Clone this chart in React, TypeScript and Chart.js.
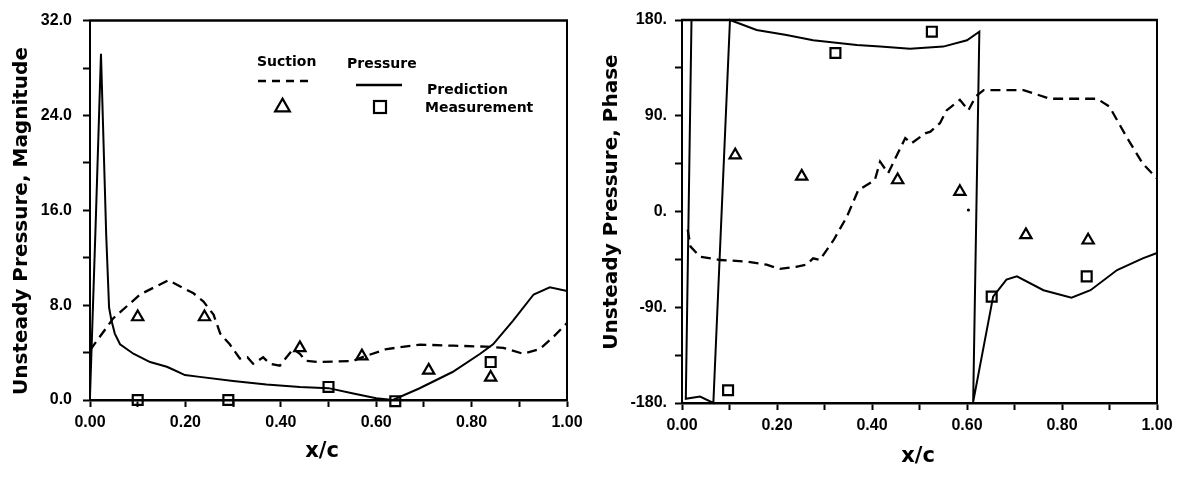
import React, { useEffect, useRef } from 'react';
import { Chart, registerables } from 'chart.js';

Chart.register(...registerables);

// ---------- tick labels ----------
const xTickValues = [0, 0.2, 0.4, 0.6, 0.8, 1.0];
const xTickLabels = ['0.00', '0.20', '0.40', '0.60', '0.80', '1.00'];
const magTickValues = [0, 8, 16, 24, 32];
const magTickLabels = ['0.0', '8.0', '16.0', '24.0', '32.0'];
const phaseTickValues = [-180, -90, 0, 90, 180];
const phaseTickLabels = ['-180.', '-90.', '0.', '90.', '180.'];

// ---------- magnitude panel ----------
const magPressPredX = [0, 0.012, 0.023, 0.034, 0.040, 0.045, 0.052, 0.063, 0.091, 0.126, 0.161, 0.175, 0.199, 0.23, 0.30, 0.37, 0.44, 0.50, 0.552, 0.60, 0.635, 0.69, 0.76, 0.818, 0.845, 0.887, 0.93, 0.964, 1.0];
const magPressPredY = [0.3, 15.0, 29.2, 13.9, 7.8, 6.7, 5.6, 4.7, 3.9, 3.2, 2.8, 2.55, 2.1, 1.95, 1.6, 1.3, 1.1, 1.0, 0.55, 0.15, 0.0, 0.97, 2.36, 3.9, 4.7, 6.7, 8.9, 9.5, 9.2];
const magSuctPredX = [0, 0.049, 0.105, 0.164, 0.217, 0.238, 0.259, 0.273, 0.293, 0.314, 0.33, 0.342, 0.363, 0.377, 0.398, 0.412, 0.426, 0.44, 0.452, 0.482, 0.552, 0.57, 0.622, 0.692, 0.762, 0.83, 0.866, 0.908, 0.943, 0.971, 1.0];
const magSuctPredY = [4.2, 6.9, 8.9, 10.1, 9.0, 8.3, 7.2, 5.6, 4.7, 3.5, 3.6, 3.06, 3.6, 3.06, 2.9, 3.6, 4.3, 3.9, 3.3, 3.2, 3.3, 3.6, 4.3, 4.67, 4.58, 4.5, 4.4, 3.9, 4.3, 5.3, 6.5];
const magSuctMeasX = [0.10, 0.24, 0.44, 0.57, 0.71, 0.84];
const magSuctMeasY = [7.0, 7.0, 4.4, 3.7, 2.5, 1.9];
const magPressMeasX = [0.10, 0.29, 0.50, 0.64, 0.84];
const magPressMeasY = [0.0, 0.0, 1.1, -0.1, 3.2];

// ---------- phase panel ----------
const phPressPredX = [0, 0.02, 0.008, 0.038, 0.066, 0.101, 0.157, 0.22, 0.276, 0.368, 0.417, 0.48, 0.55, 0.60, 0.626, 0.613, 0.655, 0.683, 0.705, 0.761, 0.82, 0.86, 0.916, 0.97, 1.0];
const phPressPredY = [180, 180, -176, -174, -180, 180, 170.6, 165.9, 161, 156.4, 155, 153, 155, 161, 169, -179, -80, -64, -61, -74, -81, -74, -55, -44, -39];
const phSuctPredX = [0.012, 0.018, 0.038, 0.08, 0.136, 0.178, 0.206, 0.24, 0.262, 0.276, 0.29, 0.319, 0.347, 0.371, 0.406, 0.417, 0.434, 0.47, 0.483, 0.512, 0.523, 0.543, 0.557, 0.585, 0.603, 0.618, 0.635, 0.719, 0.775, 0.874, 0.90, 0.936, 0.97, 1.0];
const phSuctPredY = [-17, -33, -42.5, -45.6, -47, -50, -54, -52, -50, -44, -45.6, -27, -5, 20, 29.6, 46.8, 36, 69, 64, 73.5, 75, 83, 95, 105, 95, 108, 114, 114, 106, 106, 98.5, 70, 45, 31];
const phSuctMeasX = [0.112, 0.252, 0.454, 0.585, 0.724, 0.855];
const phSuctMeasY = [53, 33, 29.6, 18.6, -22, -27];
const phPressMeasX = [0.097, 0.323, 0.526, 0.652, 0.852];
const phPressMeasY = [-168, 149, 169, -80, -61];
const phStrayX = [0.603];
const phStrayY = [1.4];

const pts = (xs: number[], ys: number[]) => xs.map((x, i) => ({ x, y: ys[i] }));

const tickCb = (values: number[], labels: string[]) => (v: any) => {
  const i = values.findIndex((t) => Math.abs(t - Number(v)) < 1e-6);
  return i >= 0 ? labels[i] : '';
};

const TICK_FONT = { family: '"Liberation Sans", Arial, sans-serif', size: 16, weight: 'bold' as const };

function drawTriangle(ctx: CanvasRenderingContext2D, cx: number, cy: number, r: number) {
  ctx.beginPath();
  for (let k = 0; k < 3; k++) {
    const a = -Math.PI / 2 + (k * 2 * Math.PI) / 3;
    const x = cx + Math.cos(a) * r;
    const y = cy + Math.sin(a) * r + r * 0.25;
    if (k === 0) ctx.moveTo(x, y);
    else ctx.lineTo(x, y);
  }
  ctx.closePath();
  ctx.stroke();
}

function decorPlugin(p: { yTitle: string; yTitleX: number; yTitleY: number; xTitleX: number; xTitleY: number; legend: boolean }) {
  return {
    id: 'decor',
    afterDraw(chart: any) {
      const { ctx, chartArea: a } = chart;
      ctx.save();
      ctx.strokeStyle = '#000';
      ctx.lineWidth = 2.5;
      ctx.beginPath();
      ctx.moveTo(a.left - 1, a.top);
      ctx.lineTo(a.right + 1, a.top);
      ctx.stroke();
      ctx.lineWidth = 2;
      ctx.beginPath();
      ctx.moveTo(a.right, a.top);
      ctx.lineTo(a.right, a.bottom);
      ctx.stroke();

      ctx.fillStyle = '#000';
      ctx.font = 'bold 20px "DejaVu Sans"';
      ctx.textAlign = 'center';
      ctx.textBaseline = 'middle';
      ctx.save();
      ctx.translate(p.yTitleX, p.yTitleY);
      ctx.rotate(-Math.PI / 2);
      ctx.fillText(p.yTitle, 0, 0);
      ctx.restore();
      ctx.font = 'bold 21px "DejaVu Sans"';
      ctx.fillText('x/c', p.xTitleX, p.xTitleY);

      if (p.legend) {
        ctx.font = 'bold 14px "DejaVu Sans"';
        ctx.textAlign = 'left';
        ctx.fillText('Suction', 257, 62);
        ctx.fillText('Pressure', 347, 64);
        ctx.fillText('Prediction', 427, 90);
        ctx.fillText('Measurement', 425, 108);
        ctx.lineWidth = 2.5;
        ctx.setLineDash([8, 6]);
        ctx.beginPath();
        ctx.moveTo(258, 81);
        ctx.lineTo(312, 81);
        ctx.stroke();
        ctx.setLineDash([]);
        ctx.beginPath();
        ctx.moveTo(356, 85);
        ctx.lineTo(402, 85);
        ctx.stroke();
        ctx.lineWidth = 2.2;
        drawTriangle(ctx, 282.5, 105, 8.5);
        ctx.strokeRect(374, 101, 12, 12);
      }
      ctx.restore();
    },
  };
}

function lineDs(data: any[], dashed: boolean) {
  return {
    data,
    showLine: true,
    borderColor: '#000',
    borderWidth: dashed ? 2.3 : 2,
    borderDash: dashed ? [10, 6] : [],
    pointRadius: 0,
    pointHoverRadius: 0,
    tension: 0,
    clip: false as const,
  };
}

function markerDs(data: any[], style: 'triangle' | 'rect', radius: number) {
  return {
    data,
    showLine: false,
    pointStyle: style,
    pointRadius: radius,
    pointBorderWidth: 2.2,
    pointBorderColor: '#000',
    pointBackgroundColor: 'rgba(255,255,255,0)',
    borderColor: '#000',
    backgroundColor: 'rgba(255,255,255,0)',
    clip: false as const,
  };
}

function buildConfig(kind: 'mag' | 'phase'): any {
  const isMag = kind === 'mag';
  const datasets = isMag
    ? [
        lineDs(pts(magPressPredX, magPressPredY), false),
        lineDs(pts(magSuctPredX, magSuctPredY), true),
        markerDs(pts(magSuctMeasX, magSuctMeasY), 'triangle', 6.5),
        markerDs(pts(magPressMeasX, magPressMeasY), 'rect', 7),
      ]
    : [
        lineDs(pts(phPressPredX, phPressPredY), false),
        lineDs(pts(phSuctPredX, phSuctPredY), true),
        markerDs(pts(phSuctMeasX, phSuctMeasY), 'triangle', 6.5),
        markerDs(pts(phPressMeasX, phPressMeasY), 'rect', 7),
        { data: pts(phStrayX, phStrayY), showLine: false, pointRadius: 1.6, pointBackgroundColor: '#000', pointBorderWidth: 0, clip: false },
      ];
  const top = isMag ? 16 : 20;
  const bottom = isMag ? 400 : 403;
  const right = isMag ? 567 : 565;
  const grid = {
    display: true,
    drawOnChartArea: false,
    drawTicks: true,
    tickLength: 7,
    tickWidth: 2,
    tickColor: '#000',
  };
  return {
    type: 'scatter',
    data: { datasets },
    options: {
      animation: false,
      responsive: false,
      devicePixelRatio: 1,
      events: [],
      layout: { padding: { top, right: 592 - right, left: 0, bottom: 0 } },
      plugins: { legend: { display: false }, tooltip: { enabled: false }, title: { display: false } },
      scales: {
        x: {
          type: 'linear',
          min: 0,
          max: 1,
          afterFit: (s: any) => {
            s.height = 481 - bottom;
          },
          ticks: {
            stepSize: 0.1,
            autoSkip: false,
            maxRotation: 0,
            color: '#000',
            font: TICK_FONT,
            padding: 6,
            callback: tickCb(xTickValues, xTickLabels),
          },
          grid,
          border: { display: true, color: '#000', width: 2.5 },
        },
        y: {
          type: 'linear',
          min: isMag ? 0 : -180,
          max: isMag ? 32 : 180,
          afterFit: (s: any) => {
            s.width = 90;
          },
          ticks: {
            stepSize: isMag ? 4 : 45,
            autoSkip: false,
            color: '#000',
            font: TICK_FONT,
            padding: isMag ? 11 : 8,
            callback: isMag ? tickCb(magTickValues, magTickLabels) : tickCb(phaseTickValues, phaseTickLabels),
          },
          grid,
          border: { display: true, color: '#000', width: 2 },
        },
      },
    },
    plugins: [
      decorPlugin(
        isMag
          ? { yTitle: 'Unsteady Pressure, Magnitude', yTitleX: 22, yTitleY: 221, xTitleX: 322, xTitleY: 452, legend: true }
          : { yTitle: 'Unsteady Pressure, Phase', yTitleX: 20, yTitleY: 202, xTitleX: 326, xTitleY: 457, legend: false }
      ),
    ],
  };
}

function Panel({ kind, left }: { kind: 'mag' | 'phase'; left: number }) {
  const ref = useRef<HTMLCanvasElement>(null);
  useEffect(() => {
    if (!ref.current) return;
    const chart = new Chart(ref.current, buildConfig(kind));
    return () => chart.destroy();
  }, [kind]);
  return (
    <canvas
      ref={ref}
      width={592}
      height={481}
      style={{ position: 'absolute', left, top: 0, width: 592, height: 481, display: 'block' }}
    />
  );
}

export default function App() {
  return (
    <div style={{ position: 'fixed', left: 0, top: 0, width: 1184, height: 481, background: '#fff', overflow: 'hidden' }}>
      <Panel kind="mag" left={0} />
      <Panel kind="phase" left={592} />
    </div>
  );
}
